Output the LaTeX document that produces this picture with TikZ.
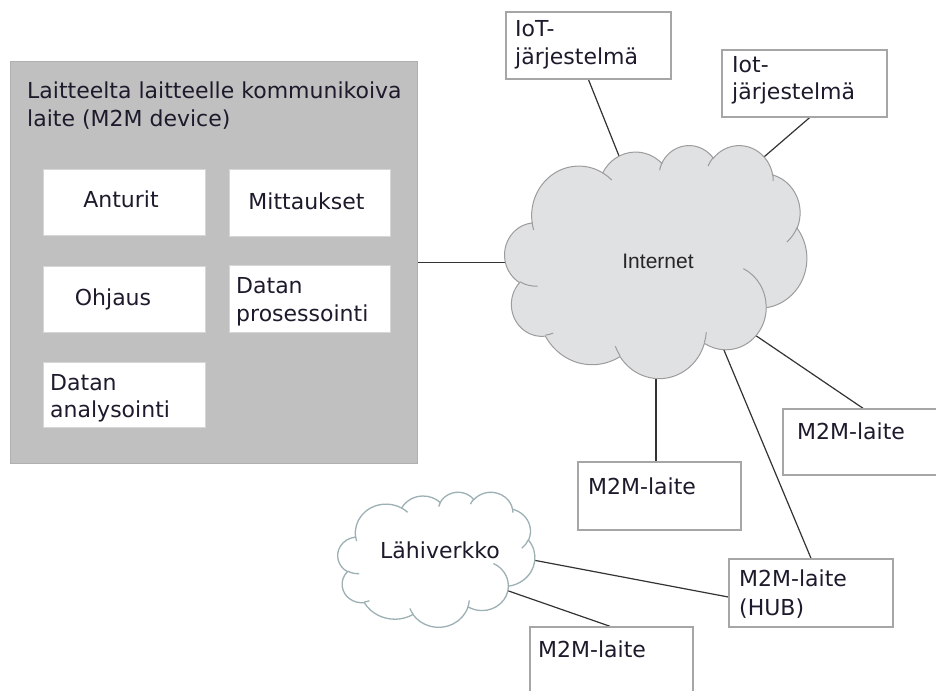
\documentclass[tikz,border=0pt]{standalone}
\usepackage{fontspec}
\setmainfont{DejaVu Sans}
\newfontfamily\arialf{Liberation Sans}
\usetikzlibrary{backgrounds}
\definecolor{txtc}{HTML}{1E1A2C}
\definecolor{devfill}{HTML}{C0C0C0}
\definecolor{devline}{HTML}{B0B0B0}
\definecolor{inbox}{HTML}{D6D6D6}
\definecolor{obox}{HTML}{A6A6A6}
\definecolor{inetfill}{HTML}{E0E1E3}
\definecolor{inetline}{HTML}{9C9C9C}
\definecolor{lanline}{HTML}{9DB0B4}
\definecolor{wire}{HTML}{333333}
\makeatletter
\pgfmathdeclarefunction{cpar}{3}{\begingroup\pgfmathparse{atan2((#2)*sin(#1),(#3)*cos(#1))}\pgfmath@smuggleone\pgfmathresult\endgroup}
\makeatother
\newcommand\carc[4]{arc[x radius=#1, y radius=#2, start angle={cpar(#3,#1,#2)}, delta angle={mod(cpar(#3+#4,#1,#2)-cpar(#3,#1,#2)+720,360)}]}
\newcommand\cloudouter{(390,1437) \carc{675.3}{919.0}{-190.4875}{123.7805}
  \carc{533.3}{726.7}{-144.1024}{89.9452}
  \carc{436.5}{594.5}{-145.8079}{99.7230}
  \carc{485.7}{659.5}{-130.9861}{117.2417}
  \carc{533.3}{727.3}{-78.7089}{109.0269}
  \carc{677.5}{922.0}{-46.2673}{130.2690}
  \carc{578.5}{786.7}{0.6250}{114.0333}
  \carc{675.2}{921.5}{22.4516}{115.1726}
  \carc{772.0}{1054.3}{66.2426}{75.7110}
  \carc{436.0}{591.8}{-274.9421}{146.7356}
  \carc{434.5}{594.5}{-246.8285}{152.5189} -- cycle}
\newcommand\cloudinner{(469.3,2617.7) \carc{434.5}{594.5}{86.7420}{26.4295}
  (692.8,3489.9) \carc{436.0}{591.8}{73.6105}{11.4475}
  (1647.8,3909.0) \carc{675.2}{921.5}{137.6242}{14.0811}
  (2882.7,3475.1) \carc{675.2}{921.5}{6.4533}{15.9984}
  (3412.9,2295.4) \carc{578.5}{786.7}{-70.2924}{70.9174}
  (4179.8,1535.4) \carc{533.3}{727.3}{30.3180}{27.7515}
  (3832.4,542.6) \carc{485.7}{659.5}{-13.7443}{14.8589}
  (2907.8,395.2) \carc{485.7}{659.5}{-149.1815}{18.1954}
  (2214.1,472.0) \carc{436.5}{594.5}{-163.4943}{17.6864}
  (1400.0,519.2) \carc{675.3}{919.0}{-66.7070}{12.3194}
  (412.7,1578.9) \carc{675.3}{919.0}{157.6544}{11.8582}}
\tikzset{
  devbox/.style={draw=devline, fill=devfill, line width=1pt, inner sep=0pt},
  inbox/.style={draw=inbox, fill=white, line width=1pt, inner sep=0pt},
  outbox/.style={draw=obox, fill=white, line width=1.4pt, inner sep=0pt},
  txt/.style={text=txtc, font=\fontsize{22}{26}\selectfont, inner sep=0pt},
  wireline/.style={draw=wire, line width=1.2pt},
  cloudarea/.style={inner sep=0pt},
  inetshape/.style={draw=inetline, fill=inetfill, line width=1pt},
  inetinner/.style={draw=inetline, line width=1pt},
  lanshape/.style={draw=lanline, fill=white, line width=1.3pt},
  laninner/.style={draw=lanline, line width=1.3pt}
}
\begin{document}
\begin{tikzpicture}[x=1pt,y=-1pt]
\path[use as bounding box] (0,0) rectangle (936,690);
% device box
\node[devbox, minimum width=407, minimum height=401] (dev) at (213.5,262.5) {};
\node[txt, anchor=base west] (devt1) at (27,99) {Laitteelta laitteelle kommunikoiva};
\node[txt, anchor=base west] (devt2) at (27,127) {laite (M2M device)};
\node[inbox, minimum width=162, minimum height=66] (ant) at (124,202) {};
\node[inbox, minimum width=161, minimum height=67] (mit) at (309.5,202.5) {};
\node[inbox, minimum width=162, minimum height=66] (ohj) at (124,299) {};
\node[inbox, minimum width=161, minimum height=67] (dpr) at (309.5,298.5) {};
\node[inbox, minimum width=162, minimum height=65] (dan) at (124,394.5) {};
\node[txt, anchor=base] (antt) at (121,207) {Anturit};
\node[txt, anchor=base] (mitt) at (306.5,209) {Mittaukset};
\node[txt, anchor=base] (ohjt) at (113,305) {Ohjaus};
\node[txt, anchor=base west] (dprt1) at (236,293) {Datan};
\node[txt, anchor=base west] (dprt2) at (236,321) {prosessointi};
\node[txt, anchor=base west] (dant1) at (50,390) {Datan};
\node[txt, anchor=base west] (dant2) at (50,417) {analysointi};
% Internet cloud
\node[cloudarea, minimum width=302, minimum height=233] (inet) at (656,261.5) {};
\begin{scope}[shift={(inet.north west)}, x=0.069907pt, y=-0.053935pt]
\draw[inetshape] \cloudouter;
\draw[inetinner] \cloudinner;
\end{scope}
\node[text=black!85, font=\arialf\fontsize{21}{24}\selectfont, inner sep=0pt] (inett) at (658,261) {Internet};
% LAN cloud
\node[cloudarea, minimum width=197, minimum height=135] (lan) at (436.5,559.5) {};
\begin{scope}[shift={(lan.north west)}, x=0.045602pt, y=-0.03125pt]
\draw[lanshape] \cloudouter;
\draw[laninner] \cloudinner;
\end{scope}
\node[txt, anchor=base west] (lant) at (380,558) {Lähiverkko};
% outer boxes
\node[outbox, minimum width=165, minimum height=67] (iot1) at (588.5,45.5) {};
\node[txt, anchor=base west] (iot1a) at (515,37) {IoT-};
\node[txt, anchor=base west] (iot1b) at (515,65) {järjestelmä};
\node[outbox, minimum width=165, minimum height=67] (iot2) at (804.5,83.5) {};
\node[txt, anchor=base west] (iot2a) at (732,73) {Iot-};
\node[txt, anchor=base west] (iot2b) at (732,100) {järjestelmä};
\node[outbox, minimum width=163, minimum height=66] (m2mR) at (864.5,442) {};
\node[txt, anchor=base west] (m2mRt) at (797,439) {M2M-laite};
\node[outbox, minimum width=163, minimum height=68] (m2mM) at (659.5,496) {};
\node[txt, anchor=base west] (m2mMt) at (588,494) {M2M-laite};
\node[outbox, minimum width=164, minimum height=68] (hub) at (811,593) {};
\node[txt, anchor=base west] (hubt1) at (739,586) {M2M-laite};
\node[txt, anchor=base west] (hubt2) at (739,615) {(HUB)};
\node[outbox, minimum width=163, minimum height=73] (m2mB) at (611.5,663.5) {};
\node[txt, anchor=base west] (m2mBt) at (538,657) {M2M-laite};
% connection points inside the clouds
\coordinate (c1) at (623,166);
\coordinate (c2) at (757,163);
\coordinate (c5) at (721,343);
\coordinate (c6) at (752,333);
\coordinate (l1) at (496,553);
\coordinate (l2) at (477,580);
\begin{scope}[on background layer]
\fill[white] (0,0) rectangle (936,690);
\draw[wireline] (iot1.south) -- (c1);
\draw[wireline] ([xshift=5pt]iot2.south) -- (c2);
\draw[wireline] (dev.east) -- (dev.east -| inet.center);
\draw[wireline] ([xshift=-3.5pt]m2mM.north) -- ([xshift=-3.5pt]m2mM.north |- inet.center);
\draw[wireline] (hub.north) -- (c5);
\draw[wireline] ([xshift=-1.5pt]m2mR.north) -- (c6);
\draw[wireline] ([yshift=-4pt]hub.west) -- (l1);
\draw[wireline] ([xshift=-1.5pt]m2mB.north) -- (l2);
\end{scope}
\end{tikzpicture}
\end{document}
